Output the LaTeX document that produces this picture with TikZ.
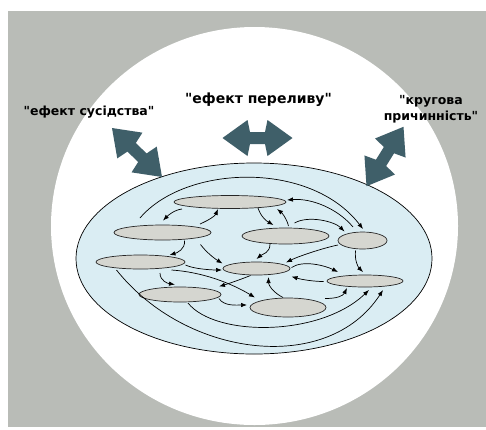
\documentclass[tikz,border=0pt]{standalone}
\usepackage{fontspec}
\setmainfont{DejaVu Sans}[Ligatures=TeXOff]
\usepackage{tikz}
\usetikzlibrary{shapes.geometric,arrows.meta,calc}
\definecolor{bggray}{HTML}{B9BCB7}
\definecolor{lakeblue}{HTML}{DAEDF3}
\definecolor{cellgray}{HTML}{D5D6D0}
\definecolor{slate}{HTML}{3F5F69}

\begin{document}
\begin{tikzpicture}[x=1pt,y=-1pt,
  region/.style={ellipse,draw=black!85,fill=cellgray,line width=.7pt,inner sep=0pt},
  link/.style={-{Latex[length=6pt,width=4.5pt]},line width=.7pt},
  effect/.style={font=\bfseries\fontsize{12.5}{16.5}\selectfont,align=center},
  bigarrow/.pic={\fill[slate] (-35,0)--(-10,-18)--(-7.5,-6)--(7.5,-6)--(10,-18)--(35,0)--(10,18)--(7.5,6)--(-7.5,6)--(-10,18)--cycle;}]
\useasboundingbox (0,0) rectangle (486,429);
\fill[bggray] (8,11) rectangle (486,427);
\fill[white] (254.5,226) ellipse [x radius=203.5pt, y radius=199pt];
\draw[fill=lakeblue,line width=.7pt] (254,258.5) ellipse [x radius=178pt, y radius=95.5pt];

\node[effect] (nbr) at (89,112) {"ефект сусідства"};
\node[effect,font=\bfseries\fontsize{14}{16.5}\selectfont] (spill) at (258.5,100) {"ефект переливу"};
\node[effect] (circ) at (431,109) {"кругова\\причинність"};

\pic[rotate=-44.4] at (137,152.5) {bigarrow};
\pic at (257.5,138) {bigarrow};
\pic[rotate=58.1] at (385,156.5) {bigarrow};

\node[region,minimum width=112pt,minimum height=13pt] (r1) at (230,202) {};
\node[region,minimum width=97pt,minimum height=15pt] (r2) at (162.5,232.5) {};
\node[region,minimum width=87pt,minimum height=16pt] (r3) at (285.5,236) {};
\node[region,minimum width=49pt,minimum height=17pt] (r4) at (362.5,240.5) {};
\node[region,minimum width=89pt,minimum height=14pt] (r5) at (140.5,262) {};
\node[region,minimum width=67pt,minimum height=13pt] (r6) at (256.5,268.5) {};
\node[region,minimum width=76pt,minimum height=12pt] (r7) at (365,281) {};
\node[region,minimum width=82pt,minimum height=15pt] (r8) at (180,294.5) {};
\node[region,minimum width=76pt,minimum height=19pt] (r9) at (288,307.5) {};
\coordinate (w0) at (140,218);

% links between the regions
\draw[link] (w0) .. controls +(45,-53) and +(-53,-69) .. ($(r4)+(0.5,-11.5)$);
\draw[link] ($(r4)+(-9.5,-13.5)$) .. controls +(-15,-18) and +(25,-2) .. ($(r1)+(57,-2)$);
\draw[link] ($(r1)+(-48,7)$) .. controls +(-8,1) and +(5,-5) .. ($(r2)+(0.5,-12)$);
\draw[link] ($(r2)+(37.5,-8.5)$) .. controls +(9,-4) and +(-3,7) .. ($(r1)+(-12,7)$);
\draw[link] ($(r1)+(28,6)$) .. controls +(3,9) and +(-7,-4) .. ($(r3)+(-12,-11)$);
\draw[link] ($(r3)+(3,-10)$) .. controls +(-2,-8) and +(5,4) .. ($(r1)+(47,7)$);
\draw[link] ($(r3)+(9,-13)$) .. controls +(14,-8) and +(-10,-10) .. ($(r4)+(-18,-9)$);
\draw[link] ($(r2)+(22,8)$) .. controls +(1,9) and +(7,-2) .. ($(r5)+(29,-7)$);
\draw[link] ($(r2)+(38,12)$) .. controls +(6,8) and +(-8,-5) .. ($(r6)+(-34,-5)$);
\draw[link] ($(r5)+(45,3)$) .. controls +(8,4) and +(-10,0) .. ($(r6)+(-34.5,1.5)$);
\draw[link] ($(r3)+(-15.5,8)$) .. controls +(0,9) and +(6,-5) .. ($(r6)+(0,-9.5)$);
\draw[link] ($(r4)+(-24.5,4.5)$) .. controls +(-15,3) and +(12,-6) .. ($(r6)+(29.5,-6)$);
\draw[link] ($(r6)+(-6,7)$) .. controls +(-10,4) and +(10,-3) .. ($(r8)+(39,-8)$);
\draw[link] ($(r5)+(31,8)$) .. controls +(30,2) and +(-25,-15) .. ($(r9)+(-33,-10)$);
\draw[link] ($(r5)+(19.5,11)$) .. controls +(0,8) and +(-7,-1) .. ($(r8)+(-5,-10)$);
\draw[link] ($(r8)+(39,4)$) .. controls +(5,8) and +(-10,0) .. ($(r9)+(-41,-2.5)$);
\draw[link] ($(r9)+(-5,-10)$) .. controls +(-10,-5) and +(0,8) .. ($(r6)+(12,8.5)$);
\draw[link] ($(r6)+(35,-1)$) .. controls +(12,-8) and +(-12,-6) .. ($(r7)+(-27,-9)$);
\draw[link] ($(r7)+(-41.5,0.5)$) .. controls +(-10,0) and +(10,3) .. ($(r6)+(35,8)$);
\draw[link] ($(r9)+(37,-9)$) .. controls +(12,0) and +(-4,8) .. ($(r7)+(-18,7)$);
\draw[link] ($(r4)+(-7,10)$) .. controls +(-1,10) and +(-5,-5) .. ($(r7)+(-2,-9)$);
\draw[link] ($(r8)+(8,8.5)$) .. controls +(27,34) and +(-49,47) .. ($(r7)+(4,9)$);
\draw[link] ($(r5)+(-24,8)$) .. controls +(70,88) and +(-55,85) .. ($(r7)+(18,9)$);
\end{tikzpicture}
\end{document}
